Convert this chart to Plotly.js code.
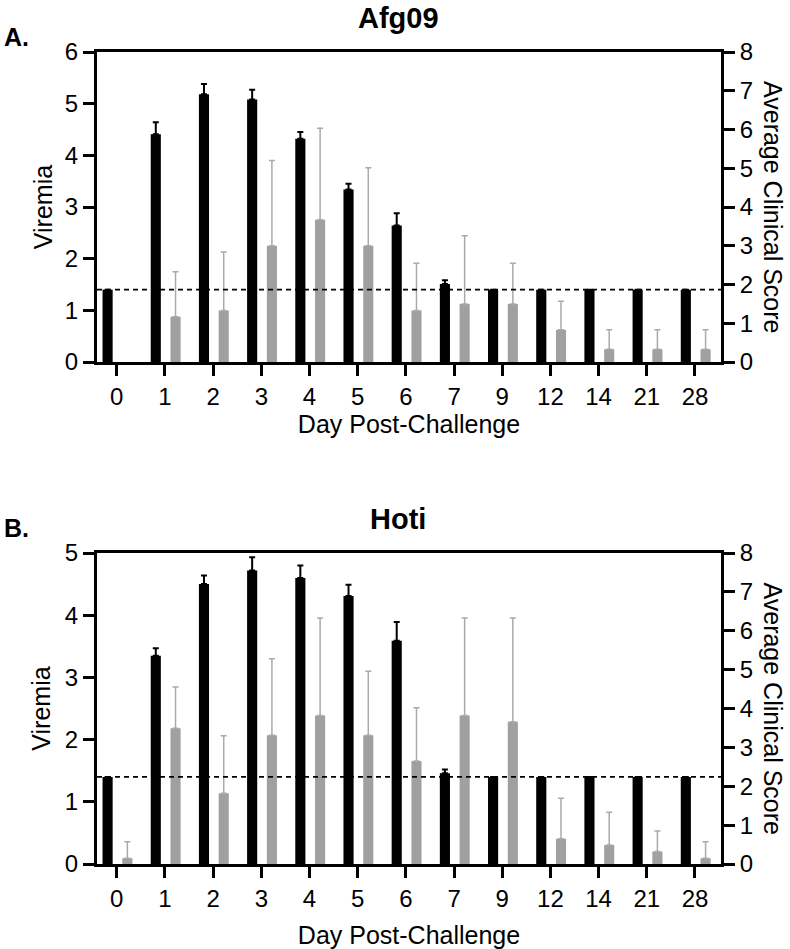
<!DOCTYPE html>
<html>
<head>
<meta charset="utf-8">
<script src="https://cdn.plot.ly/plotly-3.0.1.min.js"></script>
<style>html,body{margin:0;padding:0;background:#fff}#chart{width:790px;height:949px}</style>
</head>
<body>
<div id="chart"></div>
<script>
// Categories
const days = ['0','1','2','3','4','5','6','7','9','12','14','21','28'];
const limitOfDetection = 1.4;

// Panel A: Afg09
const viremiaA      = [1.4, 4.41, 5.18, 5.08, 4.32, 3.34, 2.64, 1.51, 1.4, 1.4, 1.4, 1.4, 1.4];
const viremiaErrA   = [null, 0.23, 0.20, 0.19, 0.13, 0.11, 0.24, 0.07, null, null, null, null, null];
const clinicalA     = [null, 1.17, 1.33, 3.00, 3.67, 3.00, 1.33, 1.50, 1.50, 0.83, 0.33, 0.33, 0.33];
const clinicalErrA  = [null, 1.16, 1.51, 2.20, 2.36, 2.01, 1.22, 1.76, 1.05, 0.74, 0.50, 0.50, 0.50];

// Panel B: Hoti
const viremiaB      = [1.4, 3.35, 4.50, 4.72, 4.60, 4.31, 3.59, 1.46, 1.4, 1.4, 1.4, 1.4, 1.4];
const viremiaErrB   = [null, 0.12, 0.14, 0.21, 0.20, 0.18, 0.30, 0.06, null, null, null, null, null];
const clinicalB     = [0.15, 3.49, 1.82, 3.31, 3.82, 3.31, 2.65, 3.82, 3.66, 0.65, 0.49, 0.32, 0.15];
const clinicalErrB  = [0.42, 1.06, 1.48, 1.97, 2.51, 1.65, 1.37, 2.51, 2.67, 1.04, 0.84, 0.53, 0.42];

const FONT = 'Liberation Sans, Arial, Helvetica, sans-serif';
const BLACK = '#000000';
const GRAY = '#a0a0a0';
const GRAY_ERR = '#aaaaaa';
const zeros = days.map(() => 0);

function blackTrace(y, err, xa, ya) {
  return {
    type: 'bar', x: days, y: y, xaxis: xa, yaxis: ya,
    offset: -0.295, width: 0.21,
    marker: {color: BLACK, line: {width: 0}},
    error_y: {type: 'data', symmetric: false, array: err, arrayminus: zeros,
              color: BLACK, thickness: 2, width: 3},
    showlegend: false, hoverinfo: 'x+y'
  };
}
function grayTrace(y, err, xa, ya) {
  return {
    type: 'bar', x: days, y: y, xaxis: xa, yaxis: ya,
    offset: 0.115, width: 0.21,
    marker: {color: GRAY, line: {width: 0}},
    error_y: {type: 'data', symmetric: false, array: err, arrayminus: zeros,
              color: GRAY_ERR, thickness: 1.5, width: 3},
    showlegend: false, hoverinfo: 'x+y'
  };
}

const data = [
  blackTrace(viremiaA, viremiaErrA, 'x', 'y'),
  grayTrace(clinicalA, clinicalErrA, 'x', 'y2'),
  blackTrace(viremiaB, viremiaErrB, 'x2', 'y3'),
  grayTrace(clinicalB, clinicalErrB, 'x2', 'y4')
];

const axisStyle = {
  showline: true, linecolor: BLACK, linewidth: 3,
  ticks: 'outside', ticklen: 11, tickwidth: 3, tickcolor: BLACK,
  showgrid: false, zeroline: false,
  tickfont: {family: FONT, size: 24, color: BLACK}
};

const xDomain = [97/790, 721/790];
const topDomain = [1 - 362/949, 1 - 52/949];
const botDomain = [1 - 864/949, 1 - 553/949];

function xAxis(anchor, standoff) {
  return Object.assign({}, axisStyle, {
    domain: xDomain, anchor: anchor, type: 'category',
    categoryorder: 'array', categoryarray: days,
    range: [-0.41, 12.54], mirror: true,
    title: {text: 'Day Post-Challenge', font: {family: FONT, size: 25, color: BLACK}, standoff: standoff}
  });
}

const layout = {
  width: 790, height: 949,
  margin: {l: 0, r: 0, t: 0, b: 0},
  paper_bgcolor: '#fff', plot_bgcolor: '#fff',
  font: {family: FONT, color: BLACK},
  barmode: 'overlay',
  xaxis: xAxis('y', 0),
  yaxis: Object.assign({}, axisStyle, {
    domain: topDomain, anchor: 'x', range: [0, 6], dtick: 1,
    title: {text: 'Viremia', font: {family: FONT, size: 25, color: BLACK}, standoff: 6}
  }),
  yaxis2: Object.assign({}, axisStyle, {
    overlaying: 'y', side: 'right', anchor: 'x', range: [0, 8], dtick: 1
  }),
  xaxis2: xAxis('y3', 16),
  yaxis3: Object.assign({}, axisStyle, {
    domain: botDomain, anchor: 'x2', range: [0, 5], dtick: 1,
    title: {text: 'Viremia', font: {family: FONT, size: 25, color: BLACK}, standoff: 8}
  }),
  yaxis4: Object.assign({}, axisStyle, {
    overlaying: 'y3', side: 'right', anchor: 'x2', range: [0, 8], dtick: 1
  }),
  shapes: [
    {type: 'line', xref: 'x domain', x0: 0, x1: 1, yref: 'y', y0: limitOfDetection, y1: limitOfDetection,
     line: {color: BLACK, width: 1.6, dash: '5px,4px'}, layer: 'above'},
    {type: 'line', xref: 'x2 domain', x0: 0, x1: 1, yref: 'y3', y0: limitOfDetection, y1: limitOfDetection,
     line: {color: BLACK, width: 1.6, dash: '5px,4px'}, layer: 'above'}
  ],
  annotations: [
    {text: 'A.', xref: 'paper', yref: 'paper', x: 2/790, y: 1 - 37/949, xanchor: 'left', yanchor: 'middle',
     showarrow: false, font: {family: FONT, size: 25, color: BLACK, weight: 'bold'}},
    {text: 'Afg09', xref: 'paper', yref: 'paper', x: 398/790, y: 1 - 18/949, xanchor: 'center', yanchor: 'middle',
     showarrow: false, font: {family: FONT, size: 29, color: BLACK, weight: 'bold'}},
    {text: 'Average Clinical Score', xref: 'paper', yref: 'paper', x: 773/790, y: (topDomain[0] + topDomain[1]) / 2,
     xanchor: 'center', yanchor: 'middle', textangle: 90, showarrow: false,
     font: {family: FONT, size: 25, color: BLACK}},
    {text: 'B.', xref: 'paper', yref: 'paper', x: 2/790, y: 1 - 528/949, xanchor: 'left', yanchor: 'middle',
     showarrow: false, font: {family: FONT, size: 25, color: BLACK, weight: 'bold'}},
    {text: 'Hoti', xref: 'paper', yref: 'paper', x: 398/790, y: 1 - 519/949, xanchor: 'center', yanchor: 'middle',
     showarrow: false, font: {family: FONT, size: 29, color: BLACK, weight: 'bold'}},
    {text: 'Average Clinical Score', xref: 'paper', yref: 'paper', x: 773/790, y: (botDomain[0] + botDomain[1]) / 2,
     xanchor: 'center', yanchor: 'middle', textangle: 90, showarrow: false,
     font: {family: FONT, size: 25, color: BLACK}}
  ]
};

Plotly.newPlot('chart', data, layout, {staticPlot: true, displayModeBar: false});
</script>
</body>
</html>
